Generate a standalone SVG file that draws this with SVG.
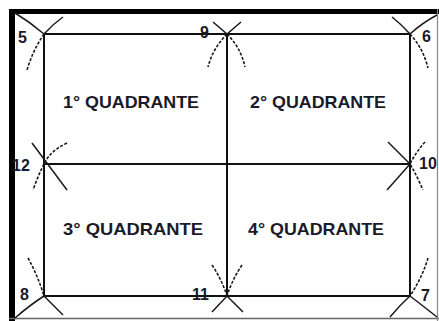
<svg xmlns="http://www.w3.org/2000/svg" width="439" height="321" viewBox="0 0 439 321">
<style>
.frame{fill:none;stroke:#111;stroke-width:2}
.arc{fill:none;stroke:#1a1a1a;stroke-width:1.5}
.dash{fill:none;stroke:#1a1a1a;stroke-width:1.6;stroke-dasharray:3 1.6}
.q{font-family:"Liberation Sans",Arial,sans-serif;font-weight:bold;font-size:17px;fill:#1a1a2a}
.n{font-family:"Liberation Sans",Arial,sans-serif;font-weight:bold;font-size:16px;fill:#1a1a2a}
</style>
<rect x="0" y="0" width="439" height="321" fill="#fff"/>
<g id="border">
<line x1="12" y1="9" x2="12" y2="321" stroke="#000" stroke-width="6"/>
<line x1="9" y1="11.5" x2="439" y2="11.5" stroke="#000" stroke-width="5"/>
<line x1="9" y1="318.5" x2="439" y2="318.5" stroke="#666" stroke-width="1.5"/>
<line x1="437.5" y1="9" x2="437.5" y2="321" stroke="#888" stroke-width="1.2"/>
</g>
<g id="connectors">
<rect class="frame" x="44" y="34" width="366" height="262"/>
<line class="frame" x1="227" y1="34" x2="227" y2="296"/>
<line class="frame" x1="44" y1="164" x2="410" y2="164"/>
<path class="arc" d="M15,13 Q30,22 44,34"/>
<path class="arc" d="M44,34 Q53,24 63,17"/>
<path class="dash" d="M44,34 Q33,50 27,70"/>
<path class="arc" d="M213,22 L227,34 L241,22"/>
<path class="dash" d="M227,34 Q213,48 208,67"/>
<path class="dash" d="M227,34 Q241,48 245,67"/>
<path class="arc" d="M392,17 Q401,24 410,34"/>
<path class="arc" d="M410,34 Q422,23 437,15"/>
<path class="dash" d="M410,34 Q423,48 428,68"/>
<path class="arc" d="M32,143 L67,190"/>
<path class="dash" d="M67,143 Q50,151 44,164 Q38,176 33,190"/>
<path class="arc" d="M388,142 L410,164 L387,190"/>
<path class="dash" d="M425,142 Q416,152 410,164 Q417,176 423,190"/>
<path class="dash" d="M28,258 Q38,276 44,296"/>
<path class="arc" d="M15,318 Q30,305 44,296"/>
<path class="arc" d="M44,296 Q54,306 63,315"/>
<path class="dash" d="M212,265 Q222,280 227,296"/>
<path class="dash" d="M242,265 Q232,280 227,296"/>
<path class="arc" d="M212,312 L227,296 L243,312"/>
<path class="dash" d="M428,258 Q422,278 410,296"/>
<path class="arc" d="M390,317 Q400,305 410,296"/>
<path class="arc" d="M410,296 Q423,306 437,317"/>
</g>
<g id="q1"><text class="q" x="63" y="108" textLength="136" lengthAdjust="spacingAndGlyphs">1° QUADRANTE</text></g>
<g id="q2"><text class="q" x="250" y="108" textLength="136" lengthAdjust="spacingAndGlyphs">2° QUADRANTE</text></g>
<g id="q3"><text class="q" x="63" y="235" textLength="140" lengthAdjust="spacingAndGlyphs">3° QUADRANTE</text></g>
<g id="q4"><text class="q" x="248" y="235" textLength="136" lengthAdjust="spacingAndGlyphs">4° QUADRANTE</text></g>
<g id="p5"><text class="n" x="18" y="43">5</text></g>
<g id="p9"><text class="n" x="200" y="38">9</text></g>
<g id="p6"><text class="n" x="422" y="42">6</text></g>
<g id="p12"><text class="n" x="12" y="171">12</text></g>
<g id="p10"><text class="n" x="419" y="169">10</text></g>
<g id="p8"><text class="n" x="20" y="300">8</text></g>
<g id="p11"><text class="n" x="192" y="300">11</text></g>
<g id="p7"><text class="n" x="421" y="301">7</text></g>
</svg>
